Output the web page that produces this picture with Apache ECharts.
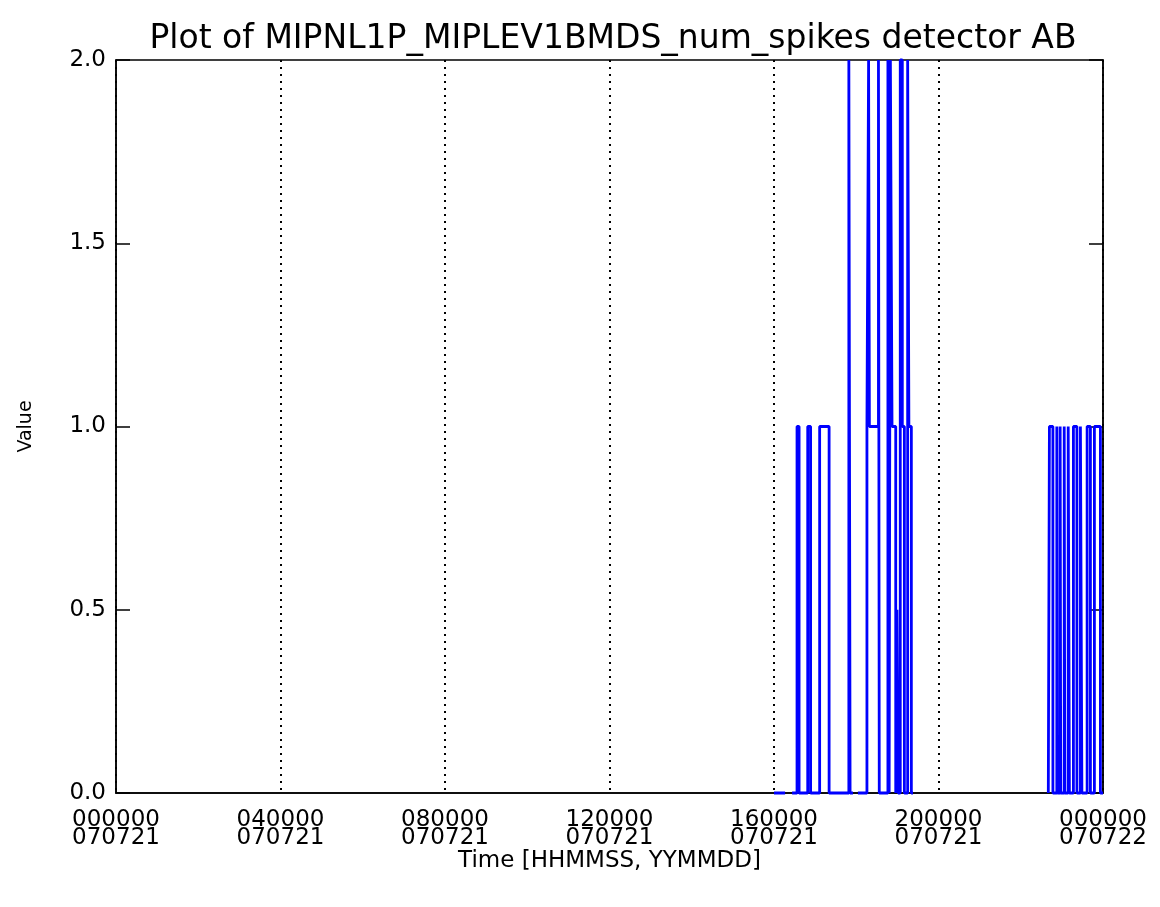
<!DOCTYPE html>
<html>
<head>
<meta charset="utf-8">
<script src="https://cdn.jsdelivr.net/npm/echarts@6/dist/echarts.min.js"></script>
<style>html,body{margin:0;padding:0;background:#fff;}#c{width:1160px;height:907px;}</style>
</head>
<body>
<div id="c"></div>
<script>
// Time in hours since 000000 070721; null separates data gaps
var timeHours = [
  16.00, 16.27, null,
  16.44, 16.56, 16.56, 16.61, 16.61, 16.82, 16.82, 16.89, 16.89,
  17.11, 17.11, 17.34, 17.34, 17.82, 17.82, 17.85, 17.85, 17.92, null,
  18.04, 18.26, 18.26, 18.30, 18.30, 18.32, 18.32, 18.54, 18.54, 18.56, 18.56,
  18.77, 18.77, 18.80, 18.80, 18.83, 18.83, 18.87, 18.87, 18.96, 18.96,
  18.99, 18.99, 19.02, 19.02, 19.07, 19.07, 19.12, 19.12, 19.17, 19.17,
  19.25, 19.25, 19.28, 19.28, 19.34, 19.34, 19.38, null,
  22.67, 22.697, 22.697, 22.782, 22.782, 22.877, 22.877, 22.892, 22.892,
  22.958, 22.958, 22.972, 22.972, 23.057, 23.057, 23.071, 23.071,
  23.154, 23.154, 23.183, 23.183, 23.281, 23.281, 23.366, 23.366,
  23.451, 23.451, 23.487, 23.487, 23.614, 23.614, 23.694, 23.694,
  23.791, 23.791, 23.937, 23.937, 24.00
];
var spikeValues = [
  0, 0, null,
  0, 0, 1, 1, 0, 0, 1, 1, 0,
  0, 1, 1, 0, 0, 2, 2, 0, 0, null,
  0, 0, 1, 1, 2, 2, 1, 1, 2, 2, 0,
  0, 2, 2, 0, 0, 2, 2, 1, 1, 0,
  0, 0.5, 0.5, 0, 0, 2, 2, 1, 1, 0,
  0, 2, 2, 1, 1, 0, 0, null,
  0, 0, 1, 1, 0, 0, 1, 1, 0,
  0, 1, 1, 0, 0, 1, 1, 0,
  0, 1, 1, 0, 0, 1, 1, 0,
  0, 1, 1, 0, 0, 1, 1, 0,
  0, 1, 1, 0, 0
];
var xTickLabels = ['000000\n070721', '040000\n070721', '080000\n070721', '120000\n070721',
                   '160000\n070721', '200000\n070721', '000000\n070722'];
var titleText = 'Plot of MIPNL1P_MIPLEV1BMDS_num_spikes detector AB';
var xAxisName = 'Time [HHMMSS, YYMMDD]';
var yAxisName = 'Value';

var seriesData = [];
for (var i = 0; i < timeHours.length; i++) {
  if (timeHours[i] === null) { seriesData.push([timeHours[i - 1], '-']); }
  else { seriesData.push([timeHours[i], spikeValues[i]]); }
}

var FONT = 'DejaVu Sans';
var chart = echarts.init(document.getElementById('c'), null, {renderer: 'canvas'});
chart.setOption({
  backgroundColor: '#fff',
  animation: false,
  title: {
    text: titleText, left: 608, top: 18, textAlign: 'center',
    textStyle: {fontFamily: FONT, fontSize: 33, fontWeight: 'normal', color: '#000'}
  },
  grid: {left: 116, right: 57, top: 60, bottom: 114, show: true, borderColor: '#000', borderWidth: 1.5, containLabel: false},
  xAxis: [{
    type: 'value', min: 0, max: 24, interval: 4,
    name: xAxisName, nameLocation: 'middle', nameGap: 57, nameMoveOverlap: false,
    nameTextStyle: {fontFamily: FONT, fontSize: 23, color: '#000'},
    axisLine: {show: true, lineStyle: {color: '#000', width: 1.5}},
    axisTick: {show: false},
    axisLabel: {
      fontFamily: FONT, fontSize: 23, color: '#000', margin: 18, lineHeight: 18,
      formatter: function (v) { return xTickLabels[Math.round(v / 4)]; }
    },
    splitLine: {show: true, lineStyle: {color: '#000', width: 2, type: [2, 5]}}
  }],
  yAxis: [{
    type: 'value', min: 0, max: 2, interval: 0.5, position: 'left',
    name: yAxisName, nameLocation: 'middle', nameGap: 80, nameRotate: 90, nameMoveOverlap: false,
    nameTextStyle: {fontFamily: FONT, fontSize: 19, color: '#000'},
    axisLine: {show: true, lineStyle: {color: '#000', width: 1.5}},
    axisTick: {show: true, inside: true, length: 14, lineStyle: {color: '#000', width: 1.5}},
    axisLabel: {fontFamily: FONT, fontSize: 23, color: '#000', margin: 10,
      formatter: function (v) { return v.toFixed(1); }},
    splitLine: {show: false}
  }, {
    type: 'value', min: 0, max: 2, interval: 0.5, position: 'right',
    axisLine: {show: true, lineStyle: {color: '#000', width: 1.5}},
    axisTick: {show: true, inside: true, length: 14, lineStyle: {color: '#000', width: 1.5}},
    axisLabel: {show: false},
    splitLine: {show: false}
  }],
  series: [{
    type: 'line', data: seriesData, xAxisIndex: 0, yAxisIndex: 0,
    showSymbol: false, symbol: 'none', connectNulls: false, clip: false,
    lineStyle: {color: '#0000ff', width: 2.8},
    z: 1
  }]
});
</script>
</body>
</html>
